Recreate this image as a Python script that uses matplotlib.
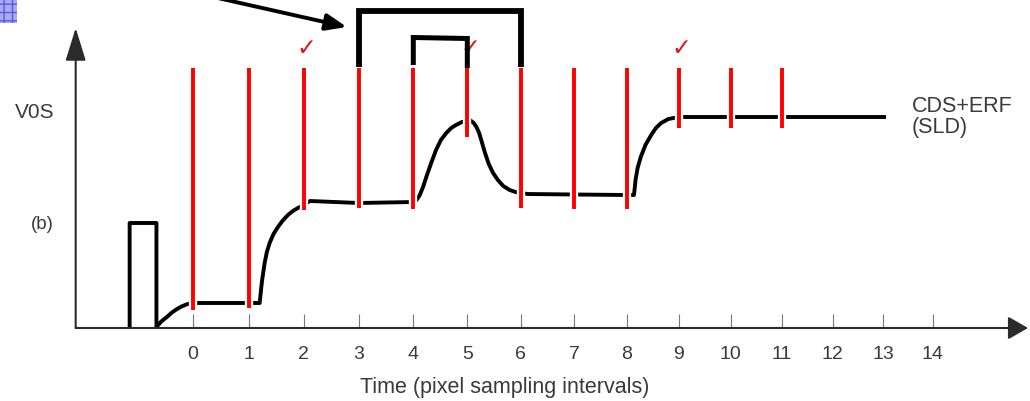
import numpy as np
import matplotlib
matplotlib.use("Agg")
import matplotlib.pyplot as plt
import matplotlib.patheffects as pe
from matplotlib.patches import Rectangle

plt.rcParams['font.family'] = ['Liberation Sans', 'DejaVu Sans']

# ---------------- data ----------------
tick_values = list(range(15))
tick_labels = [str(v) for v in tick_values]

# waveform (time in sampling intervals, amplitude in arbitrary units)
wave_t = [-1.12, -1.12, -0.645, -0.645, -0.56, -0.46, -0.37, -0.28, -0.2, -0.1, 0.0,
          1.0, 1.2, 1.21, 1.23, 1.25, 1.29, 1.33, 1.38, 1.45, 1.53, 1.61, 1.71, 1.8, 1.89, 2.0,
          2.11, 3.0, 4.0, 4.06, 4.12, 4.18, 4.24, 4.33, 4.42, 4.51, 4.61, 4.7, 4.79, 4.9, 5.0,
          5.06, 5.12, 5.17, 5.22, 5.27, 5.33, 5.40, 5.48, 5.57, 5.67, 5.79, 5.9, 6.0,
          6.13, 7.0, 8.0, 8.14, 8.155, 8.17, 8.21, 8.27, 8.36, 8.47, 8.56, 8.66, 8.8, 9.0,
          13.06]
wave_v = [0.0, 1.05, 1.05, 0.01, 0.065, 0.11, 0.155, 0.19, 0.215, 0.238, 0.25,
          0.25, 0.25, 0.30, 0.41, 0.50, 0.65, 0.76, 0.85, 0.94, 1.01, 1.07, 1.13, 1.17, 1.20, 1.23,
          1.27, 1.25, 1.26, 1.28, 1.33, 1.41, 1.51, 1.65, 1.78, 1.88, 1.95, 2.00, 2.03, 2.06, 2.07,
          2.075, 2.05, 2.01, 1.95, 1.86, 1.75, 1.64, 1.55, 1.48, 1.42, 1.38, 1.36, 1.35,
          1.34, 1.335, 1.33, 1.33, 1.40, 1.48, 1.60, 1.71, 1.83, 1.93, 2.00, 2.05, 2.09, 2.11,
          2.11]

# red sampling strobes
sample_t = list(range(12))
sample_bottom = [0.18, 0.20, 1.18, 1.20, 1.19, 1.91, 1.20, 1.19, 1.19, 2.00, 2.00, 2.00]
sample_top = 2.60
checked_samples = [2, 5, 9]

# brackets
big_bracket_t = [3, 3, 6, 6]
big_bracket_v = [2.61, 3.17, 3.17, 2.61]
small_bracket_t = [4, 4, 5, 5]
small_bracket_v = [2.63, 2.905, 2.895, 2.60]

ytick_values = [1.055, 2.18]
ytick_labels = ['(b)', 'V0S']

# ---------------- layout ----------------
A, B = 56.06, -0.2276   # slight non-uniform spacing of the time axis


def fwd(t):
    t = np.asarray(t, dtype=float)
    return A * t + B * t * t


def inv(u):
    u = np.asarray(u, dtype=float)
    disc = np.maximum(A * A + 4 * B * u, 0.0)
    return (-A + np.sqrt(disc)) / (2 * B)


W, H = 1030, 401
fig = plt.figure(figsize=(W / 100, H / 100), dpi=100)
ax = fig.add_axes([0, 0, 1, 1])
ax.set_xscale('function', functions=(fwd, inv))
ax.set_xlim(float(inv(-192.7)), float(inv(W - 192.7)))
ax.set_ylim(-0.73, 3.28)

y_axis_t = -2.07
x_tip_t = 15.93
y_tip_v = 3.00
axis_col = '#2b2b2b'
text_col = '#3a3a3a'

for s in ax.spines.values():
    s.set_visible(False)
ax.spines['bottom'].set_position(('data', 0))
ax.spines['left'].set_position(('data', y_axis_t))

ax.set_xticks(tick_values)
ax.set_xticklabels(tick_labels)
ax.tick_params(axis='x', direction='in', length=10, width=0.8, color='#777777',
               pad=13, labelsize=14, labelcolor=text_col)
ax.set_yticks(ytick_values)
ax.set_yticklabels(ytick_labels)
ax.tick_params(axis='y', length=0, pad=15.5, labelcolor=text_col)
lbls = ax.get_yticklabels()
lbls[0].set_fontsize(13.5)
lbls[1].set_fontsize(15)

# axes with arrows
ax.annotate('', xy=(y_axis_t, y_tip_v), xytext=(y_axis_t, 0),
            arrowprops=dict(arrowstyle='-|>,head_length=1.45,head_width=0.45',
                            lw=1.5, color=axis_col, shrinkA=0, shrinkB=0,
                            mutation_scale=14), annotation_clip=False)
ax.annotate('', xy=(x_tip_t, 0), xytext=(y_axis_t, 0),
            arrowprops=dict(arrowstyle='-|>,head_length=0.87,head_width=0.5',
                            lw=1.5, color=axis_col, shrinkA=0, shrinkB=0,
                            mutation_scale=14), annotation_clip=False)

# waveform
ax.plot(wave_t, wave_v, color='black', lw=2.8, solid_joinstyle='round',
        solid_capstyle='butt', zorder=2)

# sampling strobes (with a thin white halo that breaks the waveform)
for t, b in zip(sample_t, sample_bottom):
    ax.plot([t, t], [b, sample_top], color='#ff0000', lw=2.8, solid_capstyle='butt',
            zorder=3,
            path_effects=[pe.Stroke(linewidth=6.0, foreground='white', capstyle='butt'),
                          pe.Normal()])

# check marks
for t in checked_samples:
    ax.text(t + 0.05, 2.80, '\u2713', color='#e0141e', fontsize=17, fontweight='bold',
            family='DejaVu Sans', ha='center', va='center', zorder=3)

# brackets
ax.plot(big_bracket_t, big_bracket_v, color='black', lw=4.2,
        solid_joinstyle='miter', solid_capstyle='butt', zorder=5)
ax.plot(small_bracket_t, small_bracket_v, color='black', lw=3.6,
        solid_joinstyle='miter', solid_capstyle='butt', zorder=5)

# pointer arrow
ax.annotate('', xy=(2.78, 3.01), xytext=(0.21, 3.33),
            arrowprops=dict(arrowstyle='-|>,head_length=1.25,head_width=0.5',
                            lw=2.8, color='black', shrinkA=0, shrinkB=0,
                            mutation_scale=10), annotation_clip=False, zorder=5)

# texts
ax.text(5.7, -0.65, 'Time (pixel sampling intervals)', ha='center', va='baseline',
        fontsize=15.5, color=text_col)
ax.text(13.58, 2.16, 'CDS+ERF', ha='left', va='baseline', fontsize=15.5, color=text_col)
ax.text(13.58, 1.95, '(SLD)', ha='left', va='baseline', fontsize=15.5, color=text_col)

# small blue icon in the corner
fig.patches.append(Rectangle((0, 1 - 23 / H), 17 / W, 23 / H, transform=fig.transFigure,
                             facecolor='#a9a9f2', edgecolor='#5a5ae6', hatch='++',
                             lw=0, figure=fig))

fig.savefig('out.png', dpi=100)
